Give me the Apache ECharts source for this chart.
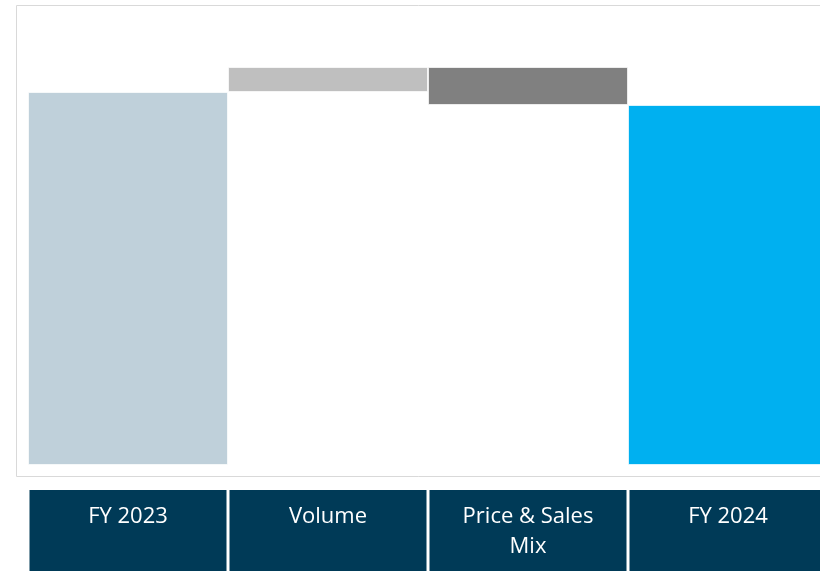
<!DOCTYPE html>
<html>
<head>
<meta charset="utf-8">
<script src="https://cdn.jsdelivr.net/npm/echarts@6/dist/echarts.min.js"></script>
<style>
  html, body { margin: 0; padding: 0; background: #fff; }
  #chart { width: 820px; height: 571px; }
</style>
</head>
<body>
<div id="chart"></div>
<script>
// Bridge data (arbitrary units)
const categories = ['FY 2023', 'Volume', 'Price & Sales Mix', 'FY 2024']
const startValue = 373
const changes = [25, -38]
const endValue = 360

const barColors = ['#BFD0DA', '#BFBFBF', '#808080', '#00B0F0']

// Build invisible base + visible bar for each step
const baseData = [0]
const barData = [startValue]
let running = startValue
changes.forEach(d => {
  const next = running + d
  baseData.push(Math.min(running, next))
  barData.push(Math.abs(d))
  running = next
})
baseData.push(0)
barData.push(endValue)

const chart = echarts.init(document.getElementById('chart'))

chart.setOption({
  animation: false,
  grid: {
    left: 28,
    top: 5,
    width: 800,
    bottom: 106,
    outerBoundsMode: 'none',
    containLabel: false
  },
  graphic: [{
    type: 'rect',
    silent: true,
    z: -1,
    shape: { x: 16.5, y: 5.5, width: 900, height: 471 },
    style: { fill: 'none', stroke: '#D9D9D9', lineWidth: 1 }
  }],
  xAxis: {
    type: 'category',
    data: categories,
    axisLine: { show: false },
    axisTick: { show: false },
    axisLabel: {
      interval: 0,
      margin: 25,
      verticalAlign: 'top',
      align: 'center',
      color: '#fff',
      fontFamily: 'Open Sans',
      fontSize: 22,
      lineHeight: 30,
      backgroundColor: '#003A57',
      width: 197,
      height: 90,
      padding: [12, 0, 0, 0],
      formatter: (v) => v === 'Price & Sales Mix' ? 'Price & Sales\nMix' : v
    }
  },
  yAxis: {
    type: 'value',
    min: 0,
    max: 460,
    show: false,
    splitLine: { show: false }
  },
  series: [
    {
      name: 'base',
      type: 'bar',
      stack: 'bridge',
      silent: true,
      itemStyle: { color: 'transparent' },
      data: baseData,
      barCategoryGap: '0%'
    },
    {
      name: 'value',
      type: 'bar',
      stack: 'bridge',
      barCategoryGap: '0%',
      data: barData.map((v, i) => ({
        value: v,
        itemStyle: {
          color: barColors[i],
          borderColor: 'rgba(255,255,255,0.7)',
          borderWidth: 1
        }
      }))
    }
  ]
})
</script>
</body>
</html>
